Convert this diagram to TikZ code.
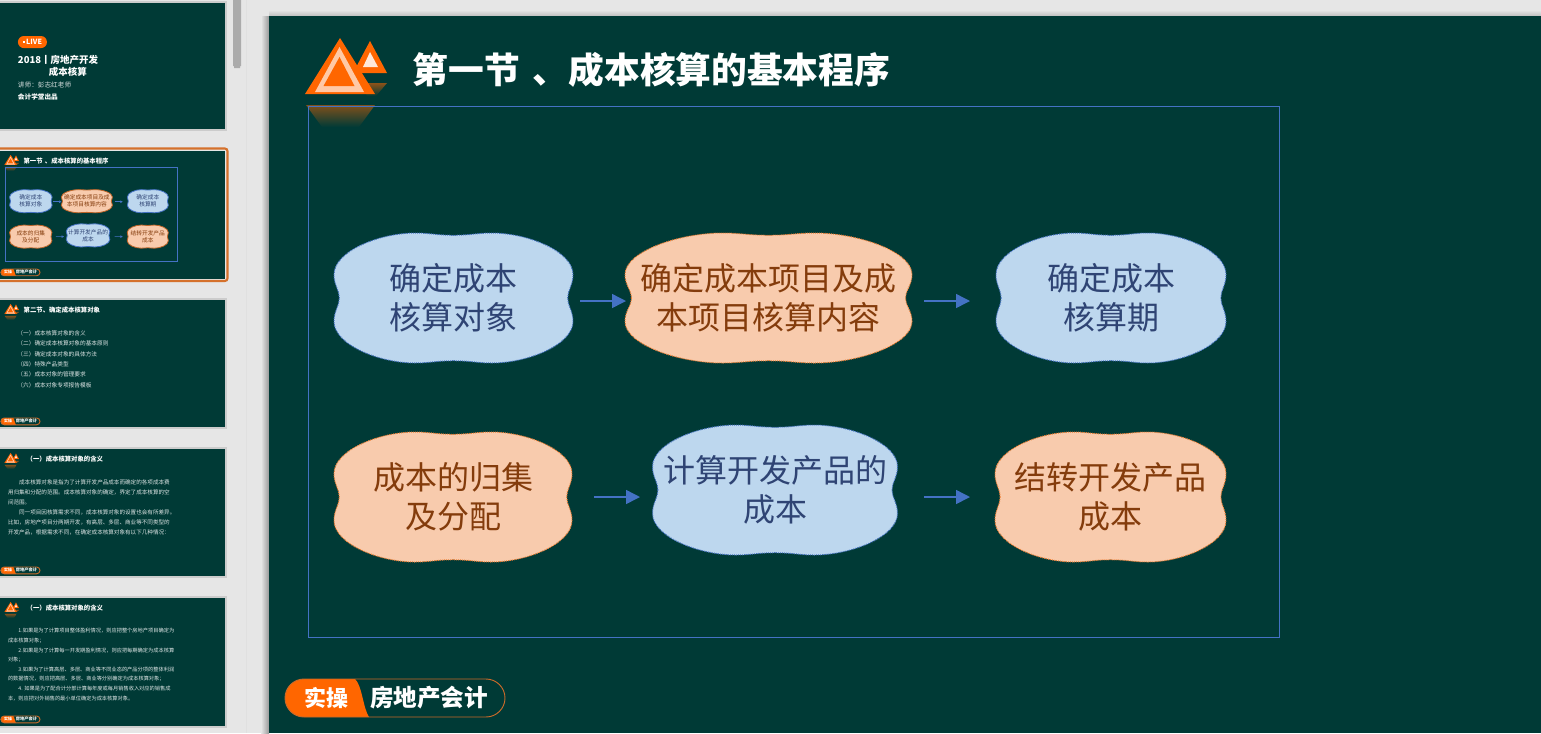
\documentclass[tikz,border=0pt]{standalone}
\usepackage{fontspec}
\newfontfamily\cjk{Noto Sans CJK SC}
\usetikzlibrary{arrows.meta,calc}
\definecolor{slidebg}{HTML}{003A36}
\definecolor{panebg}{HTML}{E6E6E6}
\definecolor{logoorange}{HTML}{FF6600}
\definecolor{boxblue}{HTML}{4472C4}
\definecolor{cloudb}{HTML}{BDD7EE}
\definecolor{cloudo}{HTML}{F8CBAD}
\definecolor{textb}{HTML}{2F4474}
\definecolor{texto}{HTML}{843C0C}
\definecolor{edgeo}{HTML}{ED7D31}
\tikzset{
  blueline/.style={draw=boxblue,line width=.75pt,dash pattern=on .75pt off .75pt},
  orangeline/.style={draw=edgeo,line width=.75pt,dash pattern=on .75pt off .75pt},
  flowarrow/.style={draw=boxblue,line width=1.1pt,-{Triangle[length=10.5pt,width=10.5pt]}},
  frameline/.style={draw=boxblue,line width=.75pt},
  cloudtext/.style={font=\cjk\fontsize{24}{29.25}\selectfont,align=center,inner sep=0pt,minimum width=100pt,minimum height=60pt},
  titletext/.style={font=\cjk\bfseries\fontsize{26.8}{32}\selectfont,text=white,anchor=west,inner sep=0pt},
  bodytext/.style={font=\cjk\fontsize{#1}{#1}\selectfont,text=white!88!slidebg,anchor=north west,align=left,inner sep=0pt},
  thumbframe/.style={draw=black!20,line width=1.5pt,fill=slidebg},
  thumb/.style={shift={(-2,#1)},scale=.178,transform shape,shift={(-269,-16)},
    blueline/.style={draw=boxblue,line width=.6pt},
    orangeline/.style={draw=edgeo!80!black,line width=.6pt},
    flowarrow/.style={draw=boxblue,line width=.5pt,-{Triangle[length=1.8pt,width=1.8pt]}},
    frameline/.style={draw=boxblue,line width=.6pt}},
}
\newcommand{\cloudshape}[5]{%
  \begin{scope}[shift={(#1,#2)},xscale=#3,yscale=#4]
    \path[#5] (-.955,0)
      .. controls (-.955,-.12) and (-1,-.2) .. (-1,-.36)
      .. controls (-1,-.72) and (-.62,-1) .. (-.32,-1)
      .. controls (-.2,-1) and (-.14,-.965) .. (0,-.965)
      .. controls (.14,-.965) and (.2,-1) .. (.32,-1)
      .. controls (.62,-1) and (1,-.72) .. (1,-.36)
      .. controls (1,-.2) and (.955,-.12) .. (.955,0)
      .. controls (.955,.12) and (1,.2) .. (1,.36)
      .. controls (1,.72) and (.62,1) .. (.32,1)
      .. controls (.2,1) and (.14,.965) .. (0,.965)
      .. controls (-.14,.965) and (-.2,1) .. (-.32,1)
      .. controls (-.62,1) and (-1,.72) .. (-1,.36)
      .. controls (-1,.2) and (-.955,.12) .. (-.955,0) -- cycle;
  \end{scope}}
\newcommand{\logomark}{%
  \fill[logoorange] (370,41) -- (387,73) -- (353,73) -- cycle;
  \fill[white!85!logoorange] (370,52) -- (378,67) -- (363,67) -- cycle;
  \shade[top color=logoorange!55!slidebg,bottom color=slidebg] (360,83) -- (387,83) -- (376,96) -- (367,96) -- cycle;
  \fill[logoorange] (340,38) -- (375,94) -- (305,94) -- cycle;
  \fill[white!65!logoorange] (339.5,47) -- (364,92) -- (315,92) -- cycle;
  \fill[logoorange] (339.5,57) -- (354.5,86) -- (323.5,86) -- cycle;
  \shade[top color=logoorange!50!slidebg,bottom color=slidebg] (306,105) -- (375,105) -- (359,127) -- (322,127) -- cycle;
}
\newcommand{\footerpill}[1]{%
  \fill[logoorange] (304,679) .. controls (293.5,679) and (285,687.5) .. (285,698)
     .. controls (285,708.5) and (293.5,717) .. (304,717) -- (369,717)
     .. controls (363,708) and (362,685) .. (355,679) -- cycle;
  \draw[draw=edgeo!85!black,line width=.7pt] (304,679) -- (486,679)
     .. controls (496.5,679) and (505,687.5) .. (505,698)
     .. controls (505,708.5) and (496.5,717) .. (486,717) -- (304,717)
     .. controls (293.5,717) and (285,708.5) .. (285,698)
     .. controls (285,687.5) and (293.5,679) .. (304,679) -- cycle;
  \node[font=\cjk\bfseries\fontsize{16.5}{20}\selectfont,text=white,inner sep=0pt] (#1-shi) at (326,698) {实操};
  \node[font=\cjk\bfseries\fontsize{17.7}{20}\selectfont,text=white,inner sep=0pt] (#1-fang) at (429,698) {房地产会计};
}
\newcommand{\flowdiagram}[1]{%
  \draw[frameline] (308.5,106.5) rectangle (1279.5,637.5);
  \cloudshape{453.5}{298}{119.5}{65}{fill=cloudb,blueline}
  \cloudshape{768.5}{298}{143.5}{65}{fill=cloudo,orangeline}
  \cloudshape{1111}{298}{115}{65}{fill=cloudb,blueline}
  \cloudshape{453}{497}{119}{65}{fill=cloudo,orangeline}
  \cloudshape{775}{490}{122.5}{65}{fill=cloudb,blueline}
  \cloudshape{1110.5}{497}{115.5}{65}{fill=cloudo,orangeline}
  \node[cloudtext,text=textb] (#1-a) at (453.5,298) {确定成本\\核算对象};
  \node[cloudtext,text=texto] (#1-b) at (768.5,298) {确定成本项目及成\\本项目核算内容};
  \node[cloudtext,text=textb] (#1-c) at (1111,298) {确定成本\\核算期};
  \node[cloudtext,text=texto] (#1-d) at (453,497) {成本的归集\\及分配};
  \node[cloudtext,text=textb] (#1-e) at (775,490) {计算开发产品的\\成本};
  \node[cloudtext,text=texto] (#1-f) at (1110.5,497) {结转开发产品\\成本};
  \draw[flowarrow] ($(#1-a.center)+(126.5,3)$) -- ($(#1-b.center)+(-142.5,3)$);
  \draw[flowarrow] ($(#1-b.center)+(155.5,3)$) -- ($(#1-c.center)+(-141,3)$);
  \draw[flowarrow] ($(#1-d.center)+(141,0)$) -- ($(#1-e.center)+(-135,7)$);
  \draw[flowarrow] ($(#1-e.center)+(149,7)$) -- ($(#1-f.center)+(-140.5,0)$);
}
\begin{document}
\begin{tikzpicture}[x=.75pt,y=-.75pt]
\useasboundingbox (0,0) rectangle (1541,733);
\clip (0,0) rectangle (1541,733);
\fill[panebg] (0,0) rectangle (1541,733);
% pane furniture
\draw[draw=black!12,line width=.75pt] (246.5,0) -- (246.5,733);
\fill[black!33] (233,-5) rectangle (241,66) (234,66) rectangle (240,68);
\shade[left color=panebg,right color=black!40] (261,16) rectangle (269,733);
\shade[top color=panebg,bottom color=black!25] (269,10) rectangle (1541,16);
% main slide
\fill[slidebg] (269,16) rectangle (1541,733);
\logomark
\node[titletext] (title) at (412.5,70) {第一节\hspace{.36em}、成本核算的基本程序};
\flowdiagram{main}
\footerpill{mainpill}
% thumbnail 1
\draw[thumbframe] (-4,2) rectangle (225.5,129.5);
\begin{scope}[thumb=2]
  \fill[logoorange] (415,207) -- (510,207) .. controls (529,207) and (544,222) .. (544,241)
     .. controls (544,260) and (529,275) .. (510,275) -- (415,275)
     .. controls (396,275) and (381,260) .. (381,241)
     .. controls (381,222) and (396,207) .. (415,207) -- cycle;
  \node[font=\cjk\bfseries\fontsize{30}{32}\selectfont,text=white,inner sep=0pt] (t1live) at (472,241) {LIVE};
  \fill[white] (408,235) rectangle (420,247);
  \node[font=\cjk\bfseries\fontsize{40}{44}\selectfont,text=white,anchor=west,inner sep=0pt] (t1a) at (381,342) {2018丨房地产开发};
  \node[font=\cjk\bfseries\fontsize{40}{44}\selectfont,text=white,anchor=west,inner sep=0pt] (t1b) at (555,409) {成本核算};
  \node[font=\cjk\fontsize{28}{32}\selectfont,text=white!85!slidebg,anchor=west,inner sep=0pt] (t1c) at (381,482) {讲师：彭志红老师};
  \node[font=\cjk\bfseries\fontsize{28}{32}\selectfont,text=white,anchor=west,inner sep=0pt] (t1d) at (381,550) {会计学堂出品};
\end{scope}
% thumbnail 2 (selected)
\draw[draw=edgeo!90!black,line width=1.6pt,rounded corners=2pt] (-4,148.5) rectangle (227.5,281);
\fill[slidebg] (-4,151) rectangle (225,279);
\begin{scope}[thumb=151]
  \logomark
  \node[titletext] (t2title) at (412.5,70) {第一节\hspace{.36em}、成本核算的基本程序};
  \flowdiagram{t2}
  \footerpill{t2pill}
\end{scope}
% thumbnail 3
\draw[thumbframe] (-4,299) rectangle (225.5,427.5);
\begin{scope}[thumb=300]
  \logomark
  \node[titletext] (t3title) at (413,70) {第二节、确定成本核算对象};
  \node[bodytext=24] (t3list) at (378,188) {（一）成本核算对象的含义\\[19.5pt]（二）确定成本核算对象的基本原则\\[19.5pt]（三）确定成本对象的具体方法\\[19.5pt]（四）特殊产品类型\\[19.5pt]（五）成本对象的管理要求\\[19.5pt]（六）成本对象专项报告模板};
  \footerpill{t3pill}
\end{scope}
% thumbnail 4
\draw[thumbframe] (-4,448) rectangle (225.5,576.5);
\begin{scope}[thumb=449]
  \logomark
  \node[titletext] (t4title) at (430,70) {（一）成本核算对象的含义};
  \node[bodytext=23.5] (t4body) at (325,186) {\hspace*{2em}成本核算对象是指为了计算开发产品成本而确定的各项成本费\\[19.3pt]用归集和分配的范围。成本核算对象的确定，界定了成本核算的空\\[19.3pt]间范围。\\[19.3pt]\hspace*{2em}同一项目因核算需求不同，成本核算对象的设置也会有所差异。\\[19.3pt]比如，房地产项目分两期开发，有高层、多层、商业等不同类型的\\[19.3pt]开发产品，根据需求不同，在确定成本核算对象有以下几种情况：};
  \footerpill{t4pill}
\end{scope}
% thumbnail 5
\draw[thumbframe] (-4,597) rectangle (225.5,726.5);
\begin{scope}[thumb=598]
  \logomark
  \node[titletext] (t5title) at (430,70) {（一）成本核算对象的含义};
  \node[bodytext=22] (t5body) at (325,187) {\hspace*{2em}1.如果是为了计算项目整体盈利情况，则应把整个房地产项目确定为\\[18pt]成本核算对象；\\[18pt]\hspace*{2em}2.如果是为了计算每一开发期盈利情况，则应把每期确定为成本核算\\[18pt]对象；\\[18pt]\hspace*{2em}3.如果为了计算高层、多层、商业等不同业态的产品分项的整体利润\\[18pt]的数据情况，则应把高层、多层、商业等分别确定为成本核算对象；\\[18pt]\hspace*{2em}4. 如果是为了配合计分部计算每年度或每月销售收入对应的销售成\\[18pt]本，则应把对外销售的最小单位确定为成本核算对象。};
  \footerpill{t5pill}
\end{scope}
\end{tikzpicture}
\end{document}
